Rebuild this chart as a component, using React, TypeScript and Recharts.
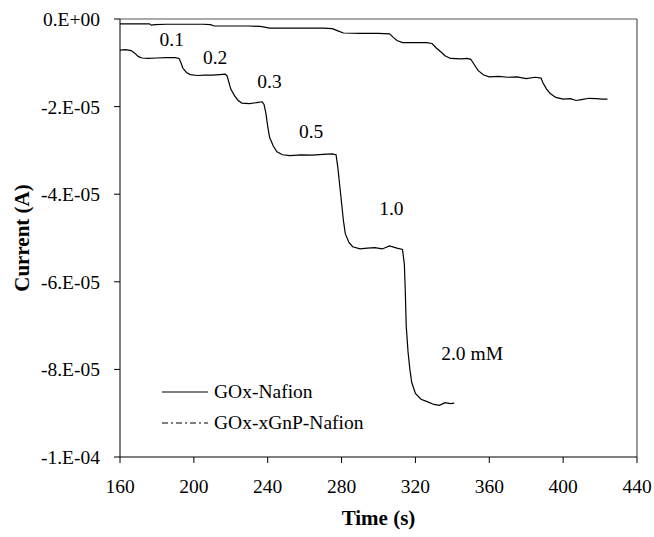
import React from 'react';
import {
  LineChart,
  Line,
  XAxis,
  YAxis,
  ReferenceLine,
  ReferenceDot
} from 'recharts';

// GOx-Nafion (upper trace): time (s) / current (A)
const nafionTime = [160, 170, 176, 177, 179, 185, 195, 205, 209, 211, 220, 230, 236, 239, 241, 250, 260, 270, 275, 278, 281, 290, 300, 306, 308, 310, 313, 320, 326, 329, 331, 334, 336, 339, 345, 348, 350, 352, 354, 357, 360, 365, 370, 375, 380, 385, 388, 389, 391, 393, 396, 400, 404, 407, 410, 414, 418, 421, 424];
const nafionCurrent = [-1.1e-6, -1.1e-6, -1.1e-6, -1.4e-6, -1.3e-6, -1.2e-6, -1.2e-6, -1.2e-6, -1.3e-6, -1.6e-6, -1.6e-6, -1.6e-6, -1.7e-6, -1.9e-6, -2.1e-6, -2.1e-6, -2.1e-6, -2.1e-6, -2.2e-6, -2.7e-6, -3.2e-6, -3.3e-6, -3.3e-6, -3.4e-6, -4.2e-6, -4.9e-6, -5.4e-6, -5.4e-6, -5.4e-6, -5.6e-6, -6.5e-6, -7.6e-6, -8.4e-6, -9.0e-6, -9.1e-6, -9.0e-6, -9.2e-6, -10.5e-6, -11.8e-6, -12.8e-6, -13.2e-6, -13.1e-6, -13.3e-6, -13.2e-6, -13.6e-6, -13.3e-6, -13.5e-6, -14.5e-6, -16.0e-6, -17.0e-6, -17.9e-6, -18.3e-6, -18.2e-6, -18.6e-6, -18.4e-6, -18.1e-6, -18.2e-6, -18.3e-6, -18.3e-6];

// GOx-xGnP-Nafion (lower trace)
const xgnpTime = [160, 163, 166, 168, 170, 172, 175, 180, 185, 190, 192, 193, 194, 196, 198, 202, 206, 210, 214, 217, 218, 219, 220, 222, 224, 226, 230, 234, 237, 238, 239, 240, 241, 243, 245, 248, 252, 258, 264, 270, 275, 277, 278, 279, 280, 281, 282, 284, 286, 290, 294, 298, 302, 306, 310, 313, 314, 314.5, 315, 316, 317, 318, 320, 323, 326, 330, 333, 336, 339, 341];
const xgnpCurrent = [-7.1e-6, -7.0e-6, -7.2e-6, -7.8e-6, -8.6e-6, -8.9e-6, -9.0e-6, -8.9e-6, -8.8e-6, -8.8e-6, -9.0e-6, -10.0e-6, -11.2e-6, -12.2e-6, -12.7e-6, -12.9e-6, -12.8e-6, -12.8e-6, -12.7e-6, -12.6e-6, -13.0e-6, -14.5e-6, -16.0e-6, -17.5e-6, -18.6e-6, -19.2e-6, -19.3e-6, -19.1e-6, -18.9e-6, -19.5e-6, -21.5e-6, -24.5e-6, -27.0e-6, -29.0e-6, -30.3e-6, -31.0e-6, -31.2e-6, -31.0e-6, -31.1e-6, -30.9e-6, -30.8e-6, -31.0e-6, -34e-6, -38e-6, -42e-6, -46e-6, -49e-6, -51e-6, -52e-6, -52.5e-6, -52.3e-6, -52.2e-6, -52.5e-6, -51.8e-6, -52.3e-6, -52.6e-6, -56e-6, -62e-6, -70e-6, -76e-6, -80e-6, -83e-6, -85.5e-6, -86.8e-6, -87.3e-6, -88.0e-6, -88.2e-6, -87.6e-6, -87.8e-6, -87.7e-6];

// concentration labels
const noteText = ['0.1', '0.2', '0.3', '0.5', '1.0', '2.0 mM'];
const noteTime = [188, 211.5, 241, 263.5, 307, 350.7];
const noteCurrent = [-4.6e-6, -8.7e-6, -14.2e-6, -25.6e-6, -43.1e-6, -76.3e-6];

const xTicks = [160, 200, 240, 280, 320, 360, 400, 440];
const yTicks = [0, -2e-5, -4e-5, -6e-5, -8e-5, -1e-4];

const nafionData = nafionTime.map((t, i) => ({ time: t, current: nafionCurrent[i] }));
const xgnpData = xgnpTime.map((t, i) => ({ time: t, current: xgnpCurrent[i] }));

const font = 'Liberation Serif, DejaVu Serif, serif';

const formatSci = (v: number) => {
  if (v === 0) return '0.E+00';
  const [m, e] = v.toExponential(0).split('e');
  const exp = parseInt(e, 10);
  const sign = exp < 0 ? '-' : '+';
  return `${m}.E${sign}${String(Math.abs(exp)).padStart(2, '0')}`;
};

const LegendBox = () => (
  <div style={{ fontFamily: font, fontSize: 19.5, color: '#000' }}>
    <div style={{ display: 'flex', alignItems: 'center', height: 31 }}>
      <svg width={48} height={4}><line x1={0} y1={2} x2={46} y2={2} stroke="#000" strokeWidth={1.2} /></svg>
      <span style={{ marginLeft: 4 }}>GOx-Nafion</span>
    </div>
    <div style={{ display: 'flex', alignItems: 'center', height: 31 }}>
      <svg width={48} height={4}><line x1={0} y1={2} x2={46} y2={2} stroke="#000" strokeWidth={1.1} strokeDasharray="6 3 2 3" /></svg>
      <span style={{ marginLeft: 4 }}>GOx-xGnP-Nafion</span>
    </div>
  </div>
);

const App: React.FC = () => {
  return (
    <div style={{ position: 'absolute', left: 0, top: 0, width: 654, height: 537, background: '#fff', fontFamily: font }}>
      <LineChart width={654} height={537} margin={{ top: 19, right: 17, left: 10, bottom: 50 }} style={{ fontFamily: font }}>
        <XAxis
          type="number"
          dataKey="time"
          domain={[160, 440]}
          ticks={xTicks}
          allowDataOverflow
          stroke="#000"
          tickSize={6}
          tickMargin={16}
          height={30}
          tick={{ fill: '#000', fontSize: 19.5, fontFamily: font }}
          label={{ value: 'Time (s)', position: 'insideBottom', offset: -38, style: { fill: '#000', fontSize: 21, fontWeight: 700, fontFamily: font } }}
        />
        <YAxis
          type="number"
          dataKey="current"
          domain={[-1e-4, 0]}
          ticks={yTicks}
          allowDataOverflow
          stroke="#000"
          width={110}
          tickSize={6}
          tickMargin={14}
          tickFormatter={formatSci}
          tick={{ fill: '#000', fontSize: 19.5, fontFamily: font }}
          label={{ value: 'Current (A)', angle: -90, position: 'insideLeft', offset: 12, style: { textAnchor: 'middle', fill: '#000', fontSize: 21, fontWeight: 700, fontFamily: font } }}
        />
        <ReferenceLine y={0} stroke="#555" strokeWidth={1.2} />
        <ReferenceLine x={440} stroke="#555" strokeWidth={1.2} />
        <Line
          data={nafionData}
          dataKey="current"
          type="linear"
          stroke="#000"
          strokeWidth={1.2}
          dot={false}
          isAnimationActive={false}
        />
        <Line
          data={xgnpData}
          dataKey="current"
          type="linear"
          stroke="#000"
          strokeWidth={1.2}
          dot={false}
          isAnimationActive={false}
        />
        {noteText.map((txt, i) => (
          <ReferenceDot
            key={txt}
            x={noteTime[i]}
            y={noteCurrent[i]}
            r={0}
            stroke="none"
            fill="none"
            label={{ value: txt, position: 'center', style: { fill: '#000', fontSize: 19.5, fontFamily: font } }}
          />
        ))}
      </LineChart>
      <div style={{ position: 'absolute', left: 162, top: 376 }}>
        <LegendBox />
      </div>
    </div>
  );
};

export default App;
